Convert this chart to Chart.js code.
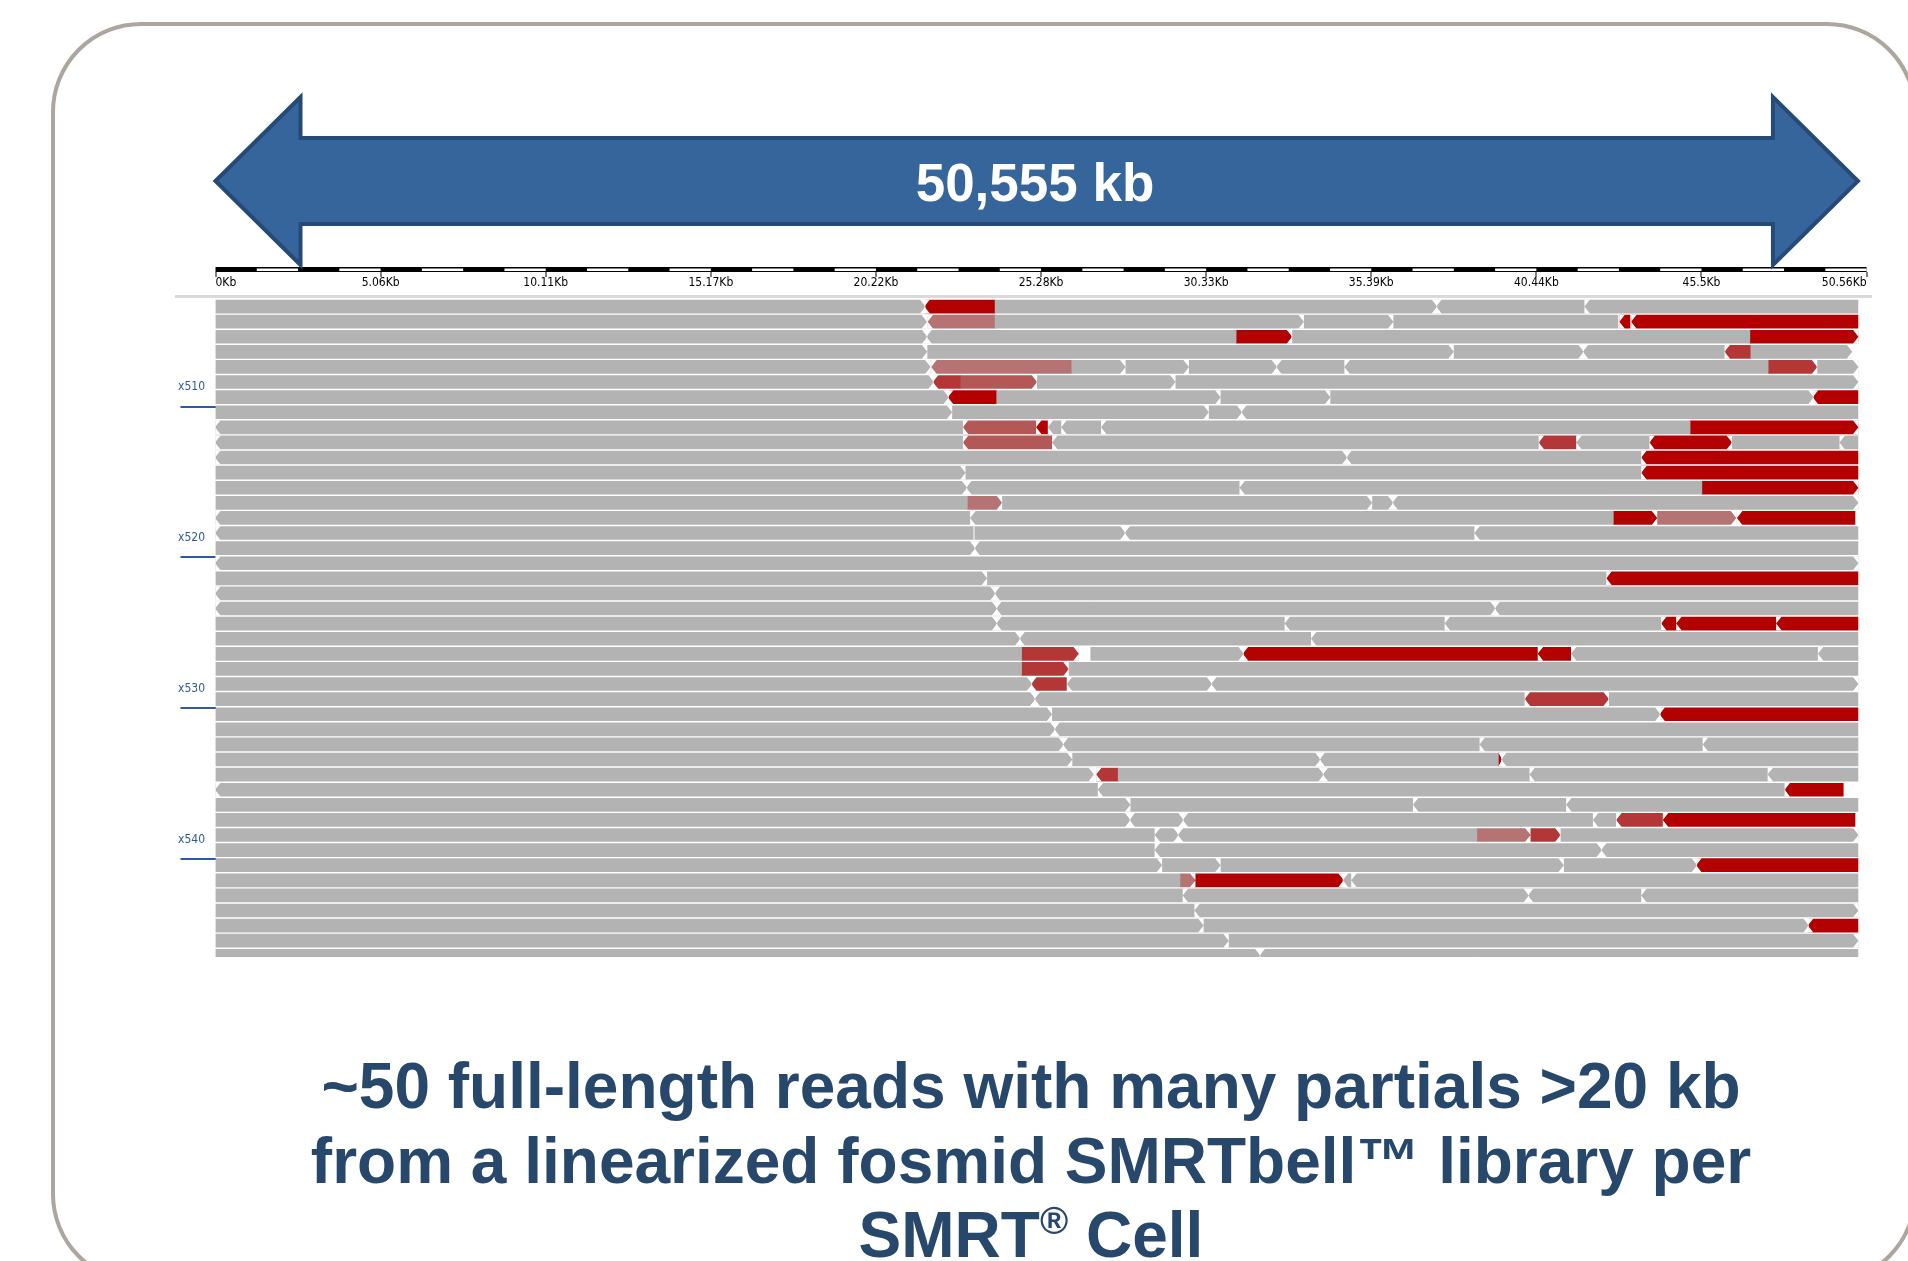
<!DOCTYPE html>
<html>
<head>
<meta charset="utf-8">
<script src="https://cdn.jsdelivr.net/npm/chart.js@4.4.1/dist/chart.umd.min.js"></script>
<style>
  body { margin: 0; width: 1908px; height: 1261px; overflow: hidden; background: #fff; position: relative; }
  #frame { position: absolute; left: 51px; top: 22px; width: 1866px; height: 1262px; border: 4px solid #aca69e; border-radius: 90px; box-sizing: border-box; z-index: 0; }
  #reads { position: absolute; left: 0; top: 0; z-index: 1; }
  #span { position: absolute; left: 835px; top: 153px; width: 400px; text-align: center; font: bold 53px/60px 'Liberation Sans', Arial, sans-serif; color: #fff; z-index: 2; }
  #caption { position: absolute; left: 231px; top: 1049px; width: 1600px; text-align: center; white-space: nowrap; font: bold 64px/74.5px 'Liberation Sans', Arial, sans-serif; color: #27486b; z-index: 2; }
  #caption sup { font-size: 0.6em; line-height: 0; vertical-align: 0.6em; }
</style>
</head>
<body>
<div id="frame"></div>
<canvas id="reads" width="1908" height="1261"></canvas>
<div id="span">50,555 kb</div>
<div id="caption">~50 full-length reads with many partials &gt;20 kb<br>from a linearized fosmid SMRTbell™ library per<br>SMRT<sup>®</sup> Cell</div>
<script>
// reference span (kb) and ruler labels
const spanKb = 50.555;
const tickStep = spanKb / 10;
const tickLabels = ['0Kb', '5.06Kb', '10.11Kb', '15.17Kb', '20.22Kb', '25.28Kb', '30.33Kb', '35.39Kb', '40.44Kb', '45.5Kb', '50.56Kb'];
const readEnd = 50.29;

// row labels on the left (value = row position of the marker line)
const rowLabels = ['x510', 'x520', 'x530', 'x540'];
const rowLabelPos = [6.62, 16.62, 26.62, 36.62];

// segments: [row, start kb, end kb, arrow] arrow: 1 = points right, -1 = points left, 2 = both, 0 = flat
const grayReads = [
  [0, 0, 21.72, 1], [0, 23.87, 37.39, 1], [0, 37.39, 41.93, -1], [0, 41.93, 50.29, -1],
  [1, 0, 21.77, 1], [1, 23.87, 33.31, 1], [1, 33.31, 36.05, 1], [1, 36.05, 42.94, 0],
  [2, 0, 21.78, 1], [2, 21.78, 31.25, -1], [2, 32.95, 46.98, 0],
  [3, 0, 21.78, 1], [3, 21.78, 37.90, 1], [3, 37.90, 41.88, 1], [3, 41.88, 46.22, -1], [3, 47.01, 50.10, 1],
  [4, 0, 21.88, 1], [4, 26.22, 27.85, 1], [4, 27.85, 29.79, 1], [4, 29.79, 32.49, 1], [4, 32.49, 34.58, -1], [4, 34.58, 47.54, -1], [4, 49.03, 50.29, 1],
  [5, 0, 21.98, 1], [5, 25.14, 29.38, 1], [5, 29.38, 50.29, 1],
  [6, 0, 22.44, 1], [6, 23.92, 30.76, 1], [6, 30.76, 34.12, 1], [6, 34.12, 48.92, 1],
  [7, 0, 22.54, 1], [7, 22.54, 30.40, 1], [7, 30.40, 31.42, 1], [7, 31.42, 50.29, -1],
  [8, 0, 22.90, -1], [8, 25.50, 25.91, -1], [8, 25.91, 27.13, -1], [8, 27.13, 45.15, -1],
  [9, 0, 22.90, -1], [9, 25.63, 40.53, -1], [9, 41.68, 43.92, -1], [9, 46.42, 49.74, 0], [9, 49.74, 50.29, -1],
  [10, 0, 34.64, 2], [10, 34.64, 43.67, -1],
  [11, 0, 22.95, 1], [11, 22.95, 43.67, 0],
  [12, 0, 23.00, 1], [12, 23.00, 31.37, -1], [12, 31.37, 45.51, -1],
  [13, 0, 23.02, 0], [13, 24.07, 35.40, 1], [13, 35.40, 36.05, 1], [13, 36.05, 50.29, 2],
  [14, 0, 23.12, -1], [14, 23.12, 42.80, -1],
  [15, 0, 23.20, -1], [15, 23.25, 27.85, 1], [15, 27.85, 38.56, -1], [15, 38.56, 50.29, -1],
  [16, 0, 23.25, 1], [16, 23.25, 50.29, -1],
  [17, 0, 50.29, 2],
  [18, 0, 23.61, 1], [18, 23.61, 42.60, 0],
  [19, 0, 23.87, 2], [19, 23.87, 50.29, -1],
  [20, 0, 23.92, 2], [20, 23.92, 26.83, -1], [20, 26.83, 39.18, 1], [20, 39.18, 50.29, -1],
  [21, 0, 23.92, 1], [21, 23.92, 32.75, -1], [21, 32.75, 37.65, -1], [21, 37.65, 44.28, -1],
  [22, 0, 24.63, 1], [22, 24.63, 33.56, -1], [22, 33.56, 50.29, -1],
  [23, 0, 24.68, 0], [23, 26.80, 31.47, 1], [23, 41.52, 49.08, -1], [23, 49.08, 50.29, -1],
  [24, 0, 24.68, 0], [24, 26.11, 50.29, 0],
  [25, 0, 24.99, 1], [25, 26.08, 30.50, 2], [25, 30.50, 50.29, 2],
  [26, 0, 25.09, 1], [26, 25.09, 40.10, -1], [26, 42.65, 50.29, 0],
  [27, 0, 25.60, 1], [27, 25.60, 44.23, 1],
  [28, 0, 25.70, 1], [28, 25.70, 50.29, -1],
  [29, 0, 25.96, 1], [29, 25.96, 38.72, -1], [29, 38.72, 45.55, -1], [29, 45.55, 50.29, -1],
  [30, 0, 26.22, 1], [30, 26.22, 33.82, 1], [30, 33.82, 39.28, -1], [30, 39.38, 50.29, -1],
  [31, 0, 26.88, 1], [31, 27.64, 33.92, 1], [31, 33.92, 40.25, -1], [31, 40.25, 47.54, -1], [31, 47.54, 50.29, -1],
  [32, 0, 27.03, -1], [32, 27.03, 48.06, -1],
  [33, 0, 28.00, 1], [33, 28.00, 36.68, 0], [33, 36.68, 41.37, -1], [33, 41.37, 50.29, -1],
  [34, 0, 28.00, 1], [34, 28.00, 29.63, 2], [34, 29.63, 42.19, -1], [34, 42.19, 42.90, -1],
  [35, 0, 28.77, 0], [35, 28.77, 29.48, 2], [35, 29.48, 38.62, -1], [35, 41.17, 50.29, 1],
  [36, 0, 28.77, 0], [36, 28.77, 42.44, 2], [36, 42.44, 50.29, -1],
  [37, 0, 28.97, 1], [37, 28.97, 30.76, 1], [37, 30.76, 41.27, 1], [37, 41.27, 45.35, 1],
  [38, 0, 29.53, 0], [38, 34.53, 34.79, -1], [38, 34.79, 50.29, -1],
  [39, 0, 29.63, 0], [39, 29.63, 40.20, 2], [39, 40.20, 43.67, -1], [39, 43.67, 50.29, -1],
  [40, 0, 29.99, 0], [40, 29.99, 50.29, 2],
  [41, 0, 30.24, 1], [41, 30.24, 48.77, 1],
  [42, 0, 31.01, 1], [42, 31.01, 50.29, 1],
  [43, 0, 31.98, 1], [43, 31.98, 38.72, -1], [43, 38.72, 50.29, 0]
];
const redReads = [
  [0, 21.72, 23.87, -1],
  [1, 43.00, 43.31, -1], [1, 43.36, 50.29, -1],
  [2, 31.25, 32.95, 1], [2, 46.98, 50.29, 1],
  [6, 22.44, 23.92, -1], [6, 48.92, 50.29, -1],
  [8, 25.14, 25.50, -1], [8, 45.15, 50.29, 1],
  [9, 43.92, 46.42, 2],
  [10, 43.67, 50.29, -1],
  [11, 43.67, 50.29, -1],
  [12, 45.51, 50.29, 1],
  [14, 42.80, 44.13, 1], [14, 46.60, 50.20, -1],
  [18, 42.60, 50.29, -1],
  [21, 44.28, 44.74, -1], [21, 44.74, 47.80, -1], [21, 47.80, 50.29, -1],
  [23, 31.47, 40.50, -1], [23, 40.50, 41.52, -1],
  [27, 44.23, 50.29, -1],
  [30, 39.28, 39.38, 1],
  [32, 48.06, 49.84, -1],
  [34, 44.33, 50.20, -1],
  [37, 45.35, 50.29, -1],
  [38, 29.99, 34.53, 1],
  [41, 48.77, 50.29, -1]
];
const brickReads = [
  [3, 46.22, 47.01, -1], [4, 47.54, 49.03, 1], [5, 21.98, 22.80, -1], [9, 40.53, 41.68, -1],
  [23, 24.68, 26.42, 1], [24, 24.68, 26.11, 1], [25, 24.99, 26.08, -1], [26, 40.10, 42.65, 2],
  [31, 26.98, 27.64, -1], [34, 42.90, 44.33, -1], [35, 40.25, 41.17, 1]
];
const roseReads = [
  [5, 22.80, 25.14, 1], [8, 22.90, 25.14, -1], [9, 22.90, 25.63, -1]
];
const pinkReads = [
  [1, 21.82, 23.87, -1], [4, 21.93, 26.22, -1], [13, 23.02, 24.07, 1], [14, 44.13, 46.55, 1],
  [35, 38.62, 40.25, 1], [38, 29.53, 29.99, 1]
];

function toBars(reads) {
  return reads.map(r => ({ x: [r[1], r[2]], y: r[0], dir: r[3] }));
}

function readSet(reads, color) {
  return {
    data: toBars(reads),
    backgroundColor: color,
    borderWidth: 0,
    barThickness: 13,
    maxBarThickness: 13,
    grouped: false
  };
}

// cut the pointed ends of each read, like a genome browser draws strands
const readArrows = {
  id: 'readArrows',
  afterDatasetsDraw(chart) {
    const ctx = chart.ctx, area = chart.chartArea;
    ctx.save();
    ctx.beginPath();
    ctx.rect(area.left, area.top, area.right - area.left, area.bottom - area.top);
    ctx.clip();
    ctx.fillStyle = '#ffffff';
    chart.data.datasets.forEach((ds, i) => {
      chart.getDatasetMeta(i).data.forEach((bar, j) => {
        const dir = ds.data[j].dir;
        if (!dir) return;
        const p = bar.getProps(['x', 'base', 'y', 'height'], true);
        const left = Math.min(p.x, p.base), right = Math.max(p.x, p.base);
        const top = p.y - p.height / 2 - 0.5, bottom = p.y + p.height / 2 + 0.5;
        const d = Math.min(5, right - left);
        ctx.beginPath();
        if (dir === 1 || dir === 2) {
          ctx.moveTo(right - d, top); ctx.lineTo(right + 0.5, top); ctx.lineTo(right + 0.5, p.y); ctx.closePath();
          ctx.moveTo(right - d, bottom); ctx.lineTo(right + 0.5, bottom); ctx.lineTo(right + 0.5, p.y); ctx.closePath();
        }
        if (dir === -1 || dir === 2) {
          ctx.moveTo(left + d, top); ctx.lineTo(left - 0.5, top); ctx.lineTo(left - 0.5, p.y); ctx.closePath();
          ctx.moveTo(left + d, bottom); ctx.lineTo(left - 0.5, bottom); ctx.lineTo(left - 0.5, p.y); ctx.closePath();
        }
        ctx.fill();
      });
    });
    ctx.restore();
  }
};

// black / white ruler above the tick labels
const ruler = {
  id: 'ruler',
  afterDraw(chart) {
    const ctx = chart.ctx, xs = chart.scales.x;
    const x0 = xs.getPixelForValue(0), x1 = xs.getPixelForValue(spanKb);
    ctx.save();
    ctx.fillStyle = '#dadada';
    ctx.fillRect(175, 295, 1697, 3);
    ctx.fillStyle = '#000';
    ctx.fillRect(x0, 267, x1 - x0, 5);
    ctx.fillStyle = '#fff';
    const q = tickStep / 4;
    for (let k = 1; k < 40; k += 2) {
      const a = xs.getPixelForValue(k * q), b = xs.getPixelForValue((k + 1) * q);
      ctx.fillRect(a, 268.5, b - a, 2.5);
    }
    ctx.fillStyle = '#000';
    tickLabels.forEach((t, i) => {
      const px = Math.round(xs.getPixelForValue(i * tickStep));
      ctx.fillRect(px - 0.5, 272, 1, 5);
    });
    ctx.restore();
  }
};

// the big double arrow spanning the reads
const spanArrow = {
  id: 'spanArrow',
  afterDraw(chart) {
    const ctx = chart.ctx, xs = chart.scales.x;
    const left = xs.getPixelForValue(0), right = xs.getPixelForValue(readEnd);
    const cy = 181, head = 85, hh = 84, sh = 43;
    ctx.save();
    ctx.beginPath();
    ctx.moveTo(left, cy);
    ctx.lineTo(left + head, cy - hh);
    ctx.lineTo(left + head, cy - sh);
    ctx.lineTo(right - head, cy - sh);
    ctx.lineTo(right - head, cy - hh);
    ctx.lineTo(right, cy);
    ctx.lineTo(right - head, cy + hh);
    ctx.lineTo(right - head, cy + sh);
    ctx.lineTo(left + head, cy + sh);
    ctx.lineTo(left + head, cy + hh);
    ctx.closePath();
    ctx.fillStyle = '#36659c';
    ctx.fill();
    ctx.lineWidth = 4;
    ctx.lineJoin = 'miter';
    ctx.strokeStyle = '#264a78';
    ctx.stroke();
    ctx.restore();
  }
};

const smallFont = "'Liberation Sans Narrow', 'DejaVu Sans Condensed', sans-serif";

new Chart(document.getElementById('reads'), {
  type: 'bar',
  data: {
    datasets: [
      readSet(grayReads, '#b3b3b3'),
      readSet(redReads, '#b30000'),
      readSet(brickReads, '#b33737'),
      readSet(roseReads, '#b35757'),
      readSet(pinkReads, '#b57373')
    ]
  },
  options: {
    indexAxis: 'y',
    responsive: false,
    devicePixelRatio: 1,
    animation: false,
    events: [],
    layout: { padding: { left: 0, right: 41.4, top: 275, bottom: 304 } },
    plugins: {
      legend: { display: false },
      tooltip: { enabled: false }
    },
    scales: {
      x: {
        type: 'linear',
        position: 'top',
        min: 0,
        max: spanKb,
        offset: false,
        afterBuildTicks: s => { s.ticks = tickLabels.map((t, i) => ({ value: i * tickStep })); },
        afterFit: s => { s.height = 24; },
        grid: { display: false, drawTicks: false },
        border: { display: false },
        ticks: {
          callback: (v, i) => tickLabels[i],
          align: 'inner',
          autoSkip: false,
          maxRotation: 0,
          padding: 9,
          color: '#000',
          font: { family: smallFont, size: 12 }
        }
      },
      y: {
        type: 'linear',
        reverse: true,
        min: -0.5,
        max: 43.08,
        offset: false,
        afterBuildTicks: s => { s.ticks = rowLabelPos.map(v => ({ value: v })); },
        afterFit: s => { s.width = 215.5; },
        grid: { offset: false, drawOnChartArea: false, drawTicks: true, tickLength: 35, color: '#2f5a9e', lineWidth: 2 },
        border: { display: false },
        ticks: {
          callback: (v, i) => rowLabels[i],
          autoSkip: false,
          padding: -24.5,
          labelOffset: -20,
          color: '#2f5a9e',
          font: { family: smallFont, size: 12 }
        }
      }
    }
  },
  plugins: [readArrows, ruler, spanArrow]
});
</script>
</body>
</html>
